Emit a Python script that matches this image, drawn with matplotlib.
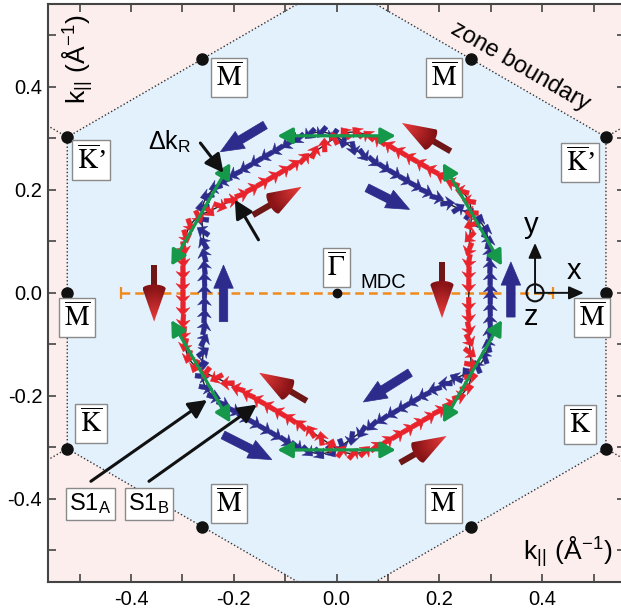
import numpy as np
import matplotlib
matplotlib.use("Agg")
import matplotlib.pyplot as plt
from matplotlib.patches import Polygon, FancyArrow, Circle
from matplotlib.collections import PolyCollection

# ---------------- data ----------------
K_RADIUS = 0.605                      # |Gamma-K| (1/A)
M_RADIUS = 0.524                      # |Gamma-M| (1/A)
K_DOT_ANGLES = [30, 150, 210, 330]    # K points inside the window
M_DOT_ANGLES = [0, 60, 120, 180, 240, 300]
EDGE_NORMALS = [0, 60, 120]           # hexagonal warping directions

CONTOUR_APOTHEM = 0.278               # mean distance Gamma -> flat contour side
RASHBA_HALF_SPLIT = 0.021             # half of Delta k_R
CHEVRON_SPACING = 0.0235
CHEVRON_SIZE = 0.027

GREEN_ANGLES = [30, 90, 150, 210, 270, 330]
GREEN_RADIUS = 0.305
GREEN_HALF = 0.115

blue_tail_x = [-0.139, 0.059, -0.220, 0.339, -0.221, 0.143]
blue_tail_y = [0.326, 0.204, -0.056, -0.047, -0.276, -0.155]
blue_tip_x = [-0.226, 0.142, -0.220, 0.339, -0.126, 0.052]
blue_tip_y = [0.274, 0.162, 0.054, 0.060, -0.324, -0.212]

red_tail_x = [-0.163, 0.222, -0.355, 0.205, -0.058, 0.123]
red_tail_y = [0.151, 0.275, 0.054, 0.060, -0.210, -0.330]
red_tip_x = [-0.068, 0.127, -0.355, 0.205, -0.151, 0.214]
red_tip_y = [0.206, 0.330, -0.056, -0.049, -0.155, -0.278]

point_labels = [r"$\overline{\mathrm{M}}$", r"$\overline{\mathrm{M}}$",
                r"$\overline{\mathrm{M}}$", r"$\overline{\mathrm{M}}$",
                r"$\overline{\mathrm{M}}$", r"$\overline{\mathrm{M}}$",
                r"$\overline{\mathrm{K}}$’", r"$\overline{\mathrm{K}}$’",
                r"$\overline{\mathrm{K}}$", r"$\overline{\mathrm{K}}$",
                r"$\overline{\Gamma}$"]
point_label_x = [-0.209, 0.209, -0.505, 0.497, -0.209, 0.208,
                 -0.478, 0.474, -0.478, 0.474, 0.0]
point_label_y = [0.419, 0.419, -0.048, -0.048, -0.409, -0.409,
                 0.258, 0.254, -0.253, -0.255, 0.049]

annot_tail_x = [-0.265, -0.152, -0.478, -0.365]
annot_tail_y = [0.291, 0.103, -0.366, -0.366]
annot_tip_x = [-0.220, -0.198, -0.252, -0.155]
annot_tip_y = [0.233, 0.181, -0.208, -0.217]

MDC_X = [-0.42, 0.42]
XYZ_ORIGIN = (0.386, 0.0)
XYZ_X_END = 0.481
XYZ_Y_END = 0.097

XLIM = (-0.562, 0.561)
YLIM = (-0.561, 0.561)
xticks_major = [-0.4, -0.2, 0.0, 0.2, 0.4]
xtick_labels = ["-0.4", "-0.2", "0.0", "0.2", "0.4"]

# ---------------- style ----------------
plt.rcParams["font.family"] = ["Liberation Sans", "DejaVu Sans"]
plt.rcParams["mathtext.fontset"] = "stix"
plt.rcParams["axes.unicode_minus"] = False

BLUE = "#2d2b8b"
RED = "#e8232b"
GREEN = "#16984a"
ORANGE = "#f08a1c"
PINK_BG = "#fdeeee"
BLUE_BG = "#e3f1fc"

fig = plt.figure(figsize=(6.21, 6.14), dpi=100)
ax = fig.add_axes([47.7 / 621, (614 - 581.7) / 614, (625 - 47.7) / 621, (581.7 - 4) / 614])
ax.set_facecolor(PINK_BG)
ax.set_xlim(*XLIM)
ax.set_ylim(*YLIM)

# ---------------- Brillouin zone ----------------
hex_ang = np.deg2rad(np.arange(30, 390, 60))
hx = K_RADIUS * np.cos(hex_ang)
hy = K_RADIUS * np.sin(hex_ang)
ax.add_patch(Polygon(np.column_stack([hx, hy]), closed=True, fc=BLUE_BG, ec="none", zorder=0))
dot_style = dict(color="#333333", lw=1.0, ls=(0, (1, 1.6)), zorder=1)
ax.plot(np.append(hx, hx[0]), np.append(hy, hy[0]), **dot_style)
for a in hex_ang:
    ax.plot([K_RADIUS * np.cos(a), 1.2 * np.cos(a)], [K_RADIUS * np.sin(a), 1.2 * np.sin(a)], **dot_style)

for a in M_DOT_ANGLES:
    ax.plot(M_RADIUS * np.cos(np.deg2rad(a)), M_RADIUS * np.sin(np.deg2rad(a)), "o",
            color="#111111", ms=8, zorder=6)
for a in K_DOT_ANGLES:
    ax.plot(K_RADIUS * np.cos(np.deg2rad(a)), K_RADIUS * np.sin(np.deg2rad(a)), "o",
            color="#111111", ms=8, zorder=6)

# ---------------- MDC line ----------------
ax.plot(MDC_X, [0, 0], color=ORANGE, lw=1.8, ls=(0, (3.5, 2)), zorder=1.5)
ax.plot(MDC_X, [0, 0], ls="none", marker="|", ms=9, mew=1.6, color=ORANGE, zorder=1.5)
ax.text(0.046, 0.021, "MDC", fontsize=14.5, ha="left", va="center", zorder=6)
ax.plot(0, 0, "o", color="#111111", ms=6, zorder=6)

# ---------------- spin-split contours ----------------
theta = np.linspace(0, 2 * np.pi, 4001)
q = 12
N = sum(np.abs(np.cos(theta - np.deg2rad(p))) ** q for p in EDGE_NORMALS) ** (1 / q)
ksharp = 2.5
s = np.tanh(ksharp * np.cos(3 * theta)) / np.tanh(ksharp)
a_red = CONTOUR_APOTHEM - RASHBA_HALF_SPLIT * s
a_blue = CONTOUR_APOTHEM + RASHBA_HALF_SPLIT * s


def curve(a):
    r = a / N
    return r * np.cos(theta), r * np.sin(theta)


xr, yr = curve(a_red)
xb, yb = curve(a_blue)
ax.plot(xr, yr, color="#222222", lw=1.0, zorder=2)
ax.plot(xb, yb, color="#222222", lw=1.0, zorder=2)

# chevron shape in local (along, across) units
CHEV = np.array([[0.50, 0.0], [-0.10, -0.50], [0.02, -0.17], [-0.50, -0.17],
                 [-0.50, 0.17], [0.02, 0.17], [-0.10, 0.50]])


def chevrons(x, y, sign, color, offset):
    tx, ty = np.gradient(x), np.gradient(y)
    tn = np.hypot(tx, ty)
    tx, ty = tx / tn, ty / tn
    nx, ny = ty, -tx
    c = -s * sign
    sn = -np.sin(3 * theta) * np.sqrt(np.clip(1 - s ** 2, 0, 1)) * sign
    dx = c * tx + sn * nx
    dy = c * ty + sn * ny
    dn = np.hypot(dx, dy)
    dx, dy = dx / dn, dy / dn
    seg = np.hypot(np.diff(x), np.diff(y))
    arc = np.concatenate([[0], np.cumsum(seg)])
    targets = np.arange(offset, arc[-1] - 0.005, CHEVRON_SPACING)
    idx = np.searchsorted(arc, targets)
    polys = []
    for i in idx:
        u = np.array([dx[i], dy[i]])
        v = np.array([-u[1], u[0]])
        pts = np.array([x[i], y[i]]) + CHEVRON_SIZE * (np.outer(CHEV[:, 0], u) + np.outer(CHEV[:, 1], v))
        polys.append(pts)
    ax.add_collection(PolyCollection(polys, facecolors=color, edgecolors=color, linewidths=0.3,
                                     zorder=3))


chevrons(xb, yb, -1, BLUE, 0.004)
chevrons(xr, yr, 1, RED, 0.014)

# ---------------- green tangent arrows ----------------
for a in GREEN_ANGLES:
    t = np.deg2rad(a)
    cx, cy = GREEN_RADIUS * np.cos(t), GREEN_RADIUS * np.sin(t)
    ux, uy = -np.sin(t), np.cos(t)
    ax.annotate("", xy=(cx + GREEN_HALF * ux, cy + GREEN_HALF * uy),
                xytext=(cx - GREEN_HALF * ux, cy - GREEN_HALF * uy),
                arrowprops=dict(arrowstyle="<|-|>,head_length=0.5,head_width=0.27", color=GREEN,
                                lw=2.3, mutation_scale=18, shrinkA=0, shrinkB=0), zorder=4)

# ---------------- big spin arrows ----------------
for x0, y0, x1, y1 in zip(blue_tail_x, blue_tail_y, blue_tip_x, blue_tip_y):
    ax.add_patch(FancyArrow(x0, y0, x1 - x0, y1 - y0, width=0.0165, head_width=0.038,
                            head_length=0.045, length_includes_head=True, color=BLUE,
                            lw=0.5, zorder=5))


def red_cone(x0, y0, x1, y1):
    tail = np.array([x0, y0])
    tip = np.array([x1, y1])
    u = (tip - tail) / np.linalg.norm(tip - tail)
    v = np.array([-u[1], u[0]])
    hl, hw, sw = 0.064, 0.045, 0.012
    base = tip - u * hl
    sh = np.array([tail + v * sw / 2, base + v * sw / 2 + u * 0.01, base - v * sw / 2 + u * 0.01,
                   tail - v * sw / 2])
    ax.add_patch(Polygon(sh, closed=True, fc="#6e1717", ec="none", zorder=5))
    phi = np.linspace(np.pi / 2, -np.pi / 2, 30)
    arc = base[None, :] + np.outer(np.sin(phi), v * hw / 2) - np.outer(np.cos(phi), u * hw * 0.18)
    pts = np.vstack([tip[None, :], arc])
    head = Polygon(pts, closed=True, fc="none", ec="none", transform=ax.transData, zorder=5.1)
    ax.add_patch(head)
    xmin, ymin = pts.min(axis=0)
    xmax, ymax = pts.max(axis=0)
    gx, gy = np.meshgrid(np.linspace(xmin, xmax, 60), np.linspace(ymin, ymax, 60))
    tt = ((gx - base[0]) * u[0] + (gy - base[1]) * u[1]) / hl
    tt = np.clip(tt, 0, 1)
    ss = ((gx - base[0]) * v[0] + (gy - base[1]) * v[1]) / (hw / 2)
    c0 = np.array([0.55, 0.08, 0.09])
    c1 = np.array([0.93, 0.24, 0.24])
    col = c0[None, None, :] * (1 - tt[..., None]) + c1[None, None, :] * tt[..., None]
    col = col * (1 - 0.15 * np.clip(np.abs(ss), 0, 1)[..., None] ** 2)
    im = ax.imshow(np.clip(col, 0, 1), extent=(xmin, xmax, ymin, ymax), origin="lower",
                   aspect="auto", interpolation="bilinear", zorder=5.1)
    im.set_clip_path(head)


for x0, y0, x1, y1 in zip(red_tail_x, red_tail_y, red_tip_x, red_tip_y):
    red_cone(x0, y0, x1, y1)

# ---------------- annotation arrows ----------------
for x0, y0, x1, y1 in zip(annot_tail_x, annot_tail_y, annot_tip_x, annot_tip_y):
    ax.annotate("", xy=(x1, y1), xytext=(x0, y0),
                arrowprops=dict(arrowstyle="-|>,head_length=0.55,head_width=0.28", color="#111111",
                                lw=2.2, mutation_scale=20, shrinkA=0, shrinkB=0), zorder=6)

ax.text(-0.324, 0.293, "Δk$_{\\mathregular{R}}$", fontsize=18, ha="center", va="center", zorder=7)

box = dict(boxstyle="square,pad=0.15", fc="white", ec="#8a8a8a", lw=1.0)
ax.text(-0.479, -0.41, "S1$_{\\mathregular{A}}$", fontsize=17, ha="center", va="center",
        bbox=box, zorder=7)
ax.text(-0.365, -0.41, "S1$_{\\mathregular{B}}$", fontsize=17, ha="center", va="center",
        bbox=box, zorder=7)

for t, x, y in zip(point_labels, point_label_x, point_label_y):
    ax.text(x, y, t, fontsize=20, ha="center", va="center", family="Liberation Serif",
            bbox=dict(boxstyle="square,pad=0.17", fc="white", ec="#8a8a8a", lw=1.0), zorder=7)

# ---------------- coordinate system ----------------
ox, oy = XYZ_ORIGIN
ax.add_patch(Circle((ox, oy), 0.0165, fc="none", ec="#111111", lw=1.5, zorder=6))
for ex, ey in [(XYZ_X_END, oy), (ox, XYZ_Y_END)]:
    ax.annotate("", xy=(ex, ey), xytext=(ox, oy),
                arrowprops=dict(arrowstyle="-|>,head_length=0.5,head_width=0.22", color="#111111",
                                lw=1.4, mutation_scale=18, shrinkA=0, shrinkB=0), zorder=6)
ax.text(0.378, 0.132, "y", fontsize=21, ha="center", va="center", zorder=7)
ax.text(0.462, 0.043, "x", fontsize=21, ha="center", va="center", zorder=7)
ax.text(0.378, -0.046, "z", fontsize=21, ha="center", va="center", zorder=7)

# ---------------- text labels ----------------
ax.text(0.357, 0.439, "zone boundary", fontsize=17, rotation=-30, ha="center", va="center",
        rotation_mode="anchor", zorder=7)
klab = "k$_{\\mathregular{||}}$ (Å$^{\\mathregular{-1}}$)"
ax.text(0.538, -0.505, klab, fontsize=19, ha="right", va="center", zorder=7)
ax.text(-0.502, 0.455, klab, fontsize=19, ha="center", va="center", rotation=90, zorder=7)

# ---------------- axes ----------------
ax.set_xticks(xticks_major)
ax.set_xticklabels(xtick_labels)
ax.set_yticks(xticks_major)
ax.set_yticklabels(xtick_labels)
ax.set_xticks(np.arange(-0.5, 0.51, 0.1), minor=True)
ax.set_yticks(np.arange(-0.5, 0.51, 0.1), minor=True)
ax.tick_params(which="both", direction="in", top=True, right=True, length=6, width=1.2,
               color="#444444", labelsize=14.5)
ax.tick_params(axis="x", pad=6)
ax.tick_params(axis="y", pad=4)
for sp in ax.spines.values():
    sp.set_color("#444444")
    sp.set_linewidth(1.5)

fig.savefig("out.png", dpi=100)
